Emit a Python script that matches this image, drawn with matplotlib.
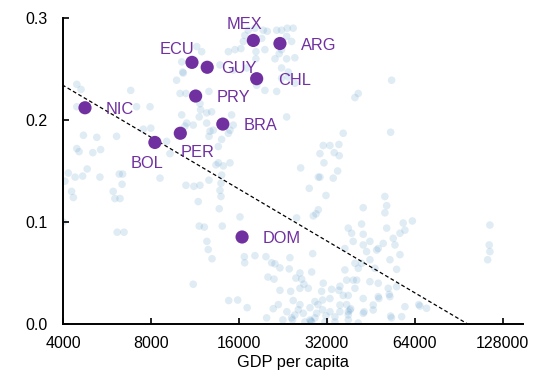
import matplotlib
matplotlib.use("Agg")
import matplotlib.pyplot as plt
import numpy as np

plt.rcParams['font.family'] = ['Liberation Sans', 'DejaVu Sans']

# ---- background countries (GDP per capita, share) ----
gdp_bg = [
    4460, 4610, 6820, 7140, 7940, 4460, 4700, 5220, 6100, 4460, 4540, 5060, 5380, 7530, 7990,
    9050, 9290, 4170, 4060, 4400, 4670, 4840, 5350, 6230, 6400, 6370, 5940, 6020, 6270, 4280,
    4340, 8590, 6130, 6470, 4000,
    9790, 10320, 10190, 10060, 10540, 10190, 10600, 11160, 10540, 11220, 11610, 11700, 12180,
    14030, 12430, 12560, 12940, 16690, 16740, 11160, 14760, 15840, 17070, 12630, 13890, 13780,
    13890, 13700, 16130, 18150, 19790, 20110, 19900, 11470, 11930, 10270, 12630, 11830, 12410,
    11700, 10460, 13070, 14910, 14720, 13600, 12640, 14910, 13600, 11770, 13960, 12740, 13960,
    14150, 13350, 12410, 11770, 12900, 15100, 15300,
    16770, 17220, 18150, 19380, 20000, 21540, 22380, 23410, 24530, 16560, 19630, 18290, 23300,
    24860, 21250, 18290, 14720, 15510, 16250, 13780, 15300, 17010, 22380, 23600, 22380, 19630,
    18390, 21540, 23300, 19140, 23300, 24230, 22380, 21970, 23600, 24860,
    31090, 30290, 26020, 30290, 27840, 31760, 29900, 29360, 28740, 25200, 53280, 39900, 40960,
    36380, 52860, 32770, 35170, 33890, 35260, 31260, 34820, 29900, 33630, 50530, 51230, 42590,
    20700, 21250, 22100, 21090, 23910, 23780, 28610, 28380, 25060, 26230, 26700, 25870, 24050,
    27620, 22100, 20960, 21810, 24530, 31090, 30690, 33210, 35450, 36380, 29120, 30930, 32770,
    24230, 24400, 25540, 26560, 28000, 28200, 29520, 30930, 32770, 34080, 35450, 37380, 37860,
    34080, 50530, 37860, 42590, 44900, 39360, 47940, 49860, 53950, 54690, 56900, 59170, 62720,
    58370, 43740, 44900, 42050, 40960, 40450, 37380, 35170, 37860, 47940, 51870, 55420, 47940,
    48200, 52580, 52300, 66560, 66000, 70150, 52860, 53200, 57660, 46080, 42590, 42900, 37860,
    28380, 40960, 115580, 114940, 115580, 113540, 25870, 35450, 42050, 38880, 42590, 47330,
    51230, 56900, 52580, 39900, 46690, 55420, 36860, 36860, 39360, 39900, 42590, 44900, 59170,
    38370, 38600, 37860, 46080, 24860, 26910, 29120, 31500, 23340, 22620, 25870, 28000, 29820,
    31760,
]
share_bg = [
    .235, .230, .229, .213, .213, .213, .185, .183, .184, .172, .169, .168, .171, .191, .192,
    .179, .167, .148, .140, .144, .145, .152, .144, .147, .147, .137, .130, .123, .123, .130,
    .124, .143, .090, .090, .100,
    .239, .246, .257, .226, .226, .205, .197, .195, .136, .135, .120, .096, .095,
    .096, .081, .073, .064, .066, .060, .039, .023, .0235, .016, .141, .138, .131,
    .125, .113, .105, .067, .066, .046, .006, .272, .267, .247, .228, .210, .207,
    .203, .194, .190, .190, .187, .174, .184, .158, .158, .136, .146, .189, .181,
    .155, .156, .197, .216, .208, .205, .195,
    .283, .288, .290, .288, .287, .288, .288, .290, .290, .277, .269, .267, .260,
    .261, .260, .260, .267, .269, .270, .254, .249, .251, .251, .242, .241, .229,
    .234, .228, .203, .280, .282, .277, .269, .265, .247, .236,
    .175, .167, .153, .144, .133, .126, .112, .108, .106, .104, .239, .222, .226,
    .187, .188, .175, .176, .168, .165, .158, .150, .144, .143, .125, .116, .114,
    .060, .059, .055, .044, .065, .054, .069, .051, .045, .044, .039, .035, .032,
    .035, .033, .015, .019, .023, .040, .032, .034, .037, .028, .022, .0235, .025,
    .006, .004, .014, .0105, .004, .003, .0105, .014, .012, .007, .012, .019, .009,
    .002, .109, .094, .088, .081, .081, .074, .079, .084, .0775, .068, .092, .101,
    .099, .071, .063, .0595, .0546, .043, .043, .033, .028, .040, .035, .0366, .0268,
    .025, .0268, .029, .0176, .019, .0154, .0078, .006, .0072, .0137, .0105, .012, .012,
    .002, .001, .097, .0775, .071, .063, .050, .0186, .098, .089, .0775, .0725,
    .094, .089, .063, .0595, .0546, .0536, .074, .053, .043, .035, .025, .0415, .017,
    .0137, .015, .004, .0186, .0088, .002, .006, .002, .012, .004, .019, .016, .019,
    .008,
]

# ---- highlighted Latin American countries ----
countries = ['NIC', 'BOL', 'PER', 'PRY', 'ECU', 'GUY', 'BRA', 'MEX', 'CHL', 'ARG', 'DOM']
gdp_hl = [4757, 8250, 10080, 11375, 11050, 12460, 14090, 17920, 18400, 22100, 16400]
share_hl = [0.212, 0.178, 0.187, 0.2235, 0.2565, 0.2517, 0.196, 0.278, 0.2405, 0.275, 0.0853]

# ---- fitted line: share = a + b*log2(gdp) ----
fit_a = 0.8427
fit_b = -0.05087
fit_range = [3500, 150000]

x_ticks = [4000, 8000, 16000, 32000, 64000, 128000]
y_ticks = [0.0, 0.1, 0.2, 0.3]

purple = '#7030a0'

fig = plt.figure(figsize=(5.34, 3.72), dpi=100)
ax = fig.add_axes([63 / 534, 1 - 324 / 372, 460 / 534, 306 / 372])

ax.scatter(gdp_bg, share_bg, s=30, color='#2a7ab8', alpha=0.14, edgecolors='none', zorder=1)

xf = np.geomspace(fit_range[0], fit_range[1], 200)
ax.plot(xf, fit_a + fit_b * np.log2(xf), color='black', lw=0.9,
        linestyle=(0, (3, 2)), zorder=2)

ax.scatter(gdp_hl, share_hl, s=90, color=purple, edgecolors='none', zorder=3)

label_style = {
    'NIC': ((21, 0), 'left'), 'PRY': ((21, 0), 'left'), 'BRA': ((21, 0), 'left'),
    'CHL': ((21, 0), 'left'), 'ARG': ((21, 0), 'left'), 'DOM': ((21, 0), 'left'),
    'GUY': ((14, 0), 'left'), 'ECU': ((2, 14), 'right'), 'MEX': ((-9, 17), 'center'),
    'PER': ((0, -18), 'left'), 'BOL': ((-8, -20), 'center'),
}
for c, x, y in zip(countries, gdp_hl, share_hl):
    off, ha = label_style[c]
    ax.annotate(c, (x, y), xytext=off, textcoords='offset pixels', ha=ha,
                va='center_baseline', color=purple, fontsize=11.8, zorder=4)

ax.set_xscale('log', base=2)
ax.set_xlim(4000, 150000)
ax.set_ylim(0, 0.3)
ax.set_xticks(x_ticks)
ax.set_xticklabels([str(t) for t in x_ticks])
ax.xaxis.set_minor_locator(matplotlib.ticker.NullLocator())
ax.set_yticks(y_ticks)
ax.set_yticklabels([f'{t:.1f}' for t in y_ticks])

for s in ['top', 'right']:
    ax.spines[s].set_visible(False)
for s in ['left', 'bottom']:
    ax.spines[s].set_linewidth(1.4)
    ax.spines[s].set_color('black')

ax.tick_params(axis='both', direction='in', length=4, width=1.2, labelsize=11.5,
               colors='black')
ax.tick_params(axis='x', pad=8.5)
ax.tick_params(axis='y', pad=11)
ax.set_xlabel('GDP per capita', fontsize=11.8, labelpad=3)

fig.savefig('out.png', dpi=100)
